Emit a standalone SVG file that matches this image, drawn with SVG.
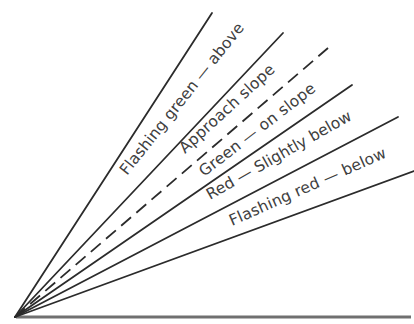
<svg xmlns="http://www.w3.org/2000/svg" width="414" height="324" viewBox="0 0 414 324">
<style>
.ray{stroke:#2b2b2b;stroke-width:1.8;fill:none;stroke-linecap:round}
.dash{stroke-dasharray:13 7;stroke-linecap:butt}
.ground{stroke:#707070;stroke-width:3;fill:none}
.lbl{font-family:"DejaVu Sans","Liberation Sans",sans-serif;font-size:15.5px;fill:#404040}
</style>
<rect width="414" height="324" fill="#ffffff"/>
<g id="connectors">
<line class="ground" x1="16" y1="317" x2="411" y2="317"/>
<line class="ray" x1="15" y1="317" x2="212" y2="13"/>
<line class="ray" x1="15" y1="317" x2="283" y2="33"/>
<line class="ray dash" x1="15" y1="317" x2="328" y2="48"/>
<line class="ray" x1="15" y1="317" x2="352" y2="85"/>
<line class="ray" x1="15" y1="317" x2="398" y2="117"/>
<line class="ray" x1="15" y1="317" x2="414" y2="171"/>
</g>
<g id="label-flashing-green">
<text class="lbl" transform="translate(127,176) rotate(-51.5)" textLength="189" lengthAdjust="spacing">Flashing green — above</text>
</g>
<g id="label-approach">
<text class="lbl" transform="translate(185,154) rotate(-42.5)" textLength="123" lengthAdjust="spacing">Approach slope</text>
</g>
<g id="label-green">
<text class="lbl" transform="translate(204,177) rotate(-37.5)" textLength="142" lengthAdjust="spacing">Green — on slope</text>
</g>
<g id="label-red">
<text class="lbl" transform="translate(210,200) rotate(-29.5)" textLength="164" lengthAdjust="spacing">Red — Slightly below</text>
</g>
<g id="label-flashing-red">
<text class="lbl" transform="translate(232,226) rotate(-24)" textLength="170" lengthAdjust="spacing">Flashing red — below</text>
</g>
</svg>
